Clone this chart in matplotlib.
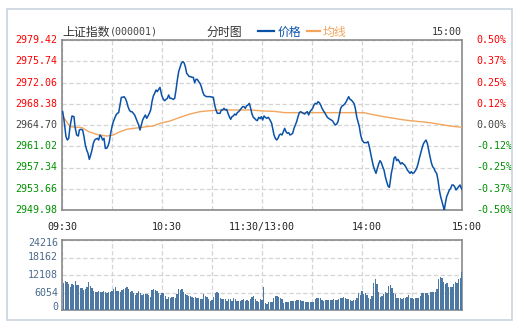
import matplotlib
matplotlib.use("Agg")
import matplotlib.pyplot as plt
import matplotlib.patches as mpatches
import matplotlib.transforms as mtrans

# ---------------- data ----------------
price_levels = [2979.42, 2975.74, 2972.06, 2968.38, 2964.70, 2961.02, 2957.34, 2953.66, 2949.98]
pct_labels = ["0.50%", "0.37%", "0.25%", "0.12%", "0.00%", "-0.12%", "-0.25%", "-0.37%", "-0.50%"]
prev_close = 2964.70
vol_levels = [0, 6054, 12108, 18162, 24216]
time_labels = ["09:30", "10:30", "11:30/13:00", "14:00", "15:00"]
time_label_minutes = [0, 60, 120, 180, 240]

price_minutes = [
    0.4, 1.2, 2.4, 3.2, 4.0, 4.8, 6.0, 7.2, 7.8, 8.8, 9.8, 10.4, 11.4, 12.4, 13.2, 14.0, 14.8, 15.6,
    16.4, 17.2, 18.0, 18.8, 19.6, 20.4, 21.2, 22.0, 22.8, 23.6, 24.4, 25.2, 26.0, 26.8, 27.6, 28.4,
    29.2, 30.0, 30.8, 31.6, 32.4, 33.2, 34.0, 34.8, 35.6, 36.4, 37.2, 38.0, 38.8, 39.6, 40.4, 41.2,
    42.0, 42.8, 43.6, 44.4, 45.2, 46.0, 46.8, 47.6, 48.4, 49.2, 50.0, 50.8, 51.6, 52.4, 53.2, 54.0,
    54.8, 55.6, 56.4, 57.2, 58.0, 58.8,
    59.8, 60.8, 61.6, 62.4, 63.2, 64.0, 64.8, 65.6, 66.8, 67.6, 68.4, 69.2, 70.0, 70.8, 71.6, 72.4,
    73.2, 74.0, 74.8, 75.6, 76.4, 77.2, 78.0, 78.8, 79.6, 80.4, 81.2, 82.0, 82.8, 83.6, 84.4, 85.2,
    86.0, 86.8, 88.8, 90.8, 91.6, 92.4, 93.2, 94.0, 94.8, 95.6, 96.4, 97.2, 98.0, 98.8, 99.6, 100.4,
    101.2, 102.0, 102.8, 103.6, 104.4, 105.2, 106.0, 106.8, 107.6, 108.4, 109.2, 110.0, 110.8, 111.6,
    112.4, 113.2, 114.0, 114.8, 115.6, 116.4, 117.2, 118.0, 118.8, 119.6, 120.4, 121.2,
    122.0, 122.8, 123.8, 124.8, 125.8, 126.4, 127.2, 128.0, 128.8, 129.6, 130.4, 131.2, 132.0, 132.8,
    133.6, 134.4, 135.2, 136.0, 136.8, 137.6, 138.4, 139.2, 140.0, 140.8, 141.6, 142.4, 143.2, 144.0,
    144.8, 145.6, 146.4, 147.2, 148.0, 148.8, 149.6, 150.4, 151.2, 152.0, 152.8, 153.6, 154.4, 155.2,
    156.0, 156.8, 157.6, 158.4, 159.2, 160.0, 160.8, 161.6, 162.4, 163.2, 164.0, 164.8, 165.6, 166.4,
    167.2, 168.0, 168.8, 169.6, 170.4, 171.2, 172.0, 172.8, 173.6, 174.4, 175.2, 176.0, 176.8, 177.6,
    178.4, 179.2, 180.0, 181.2,
    182.0, 182.8, 183.6, 184.4, 185.2, 186.0, 186.8, 187.6, 188.4, 189.2, 190.0, 190.8, 191.6, 192.4,
    193.2, 194.0, 194.8, 195.6, 196.4, 196.8, 197.6, 198.4, 199.2, 200.0, 200.8, 201.6, 202.4, 203.2,
    204.0, 204.8, 205.6, 206.4, 207.2, 208.0, 208.8, 209.6, 210.4, 211.2, 212.0, 212.8, 213.6, 214.4,
    215.2, 216.0, 216.8, 217.6, 218.4, 219.2, 220.0, 220.8, 221.6, 222.4, 223.2, 224.0, 224.8, 225.6,
    226.4, 227.2, 228.0, 228.8, 229.4, 230.0, 230.8, 231.6, 232.4, 233.2, 234.0, 234.8, 235.6, 236.4,
    237.2, 238.0, 238.8, 239.6, 240.0,
]
price_values = [
    2967.01, 2965.57, 2962.68, 2962.10, 2962.39, 2964.41, 2966.26, 2966.14, 2964.41, 2962.97, 2962.79,
    2963.83, 2963.95, 2963.83, 2962.68, 2961.24, 2960.37, 2959.79, 2958.75, 2959.50, 2960.37, 2961.52,
    2962.10, 2962.27, 2962.39, 2962.10, 2962.97, 2962.68, 2962.10, 2962.39, 2960.66, 2960.66, 2961.06,
    2961.81, 2963.26, 2964.41, 2965.28, 2965.85, 2966.43, 2966.72, 2966.84, 2968.16, 2969.49, 2969.49,
    2969.61, 2969.32, 2968.74, 2967.87, 2967.30, 2967.01, 2967.01, 2966.72, 2966.43, 2965.85, 2965.28,
    2964.70, 2963.83, 2964.70, 2965.57, 2966.03, 2966.43, 2965.85, 2966.26, 2966.72, 2967.30, 2968.74,
    2969.72, 2970.18, 2970.76, 2970.47, 2970.88, 2971.22,
    2969.89, 2969.14, 2968.91, 2969.14, 2969.32, 2969.89, 2969.32, 2969.32, 2969.14, 2969.32, 2970.76,
    2972.49, 2973.94, 2974.69, 2975.38, 2975.67, 2975.49, 2974.80, 2973.65, 2973.36, 2973.07, 2973.07,
    2972.95, 2972.95, 2972.03, 2972.61, 2972.61, 2972.20, 2971.91, 2971.34, 2970.47, 2969.89, 2969.72,
    2969.61, 2969.61, 2969.49, 2968.16, 2967.30, 2966.72, 2966.72, 2966.72, 2967.30, 2967.30, 2967.59,
    2967.30, 2967.41, 2966.72, 2966.14, 2965.68, 2966.14, 2966.26, 2966.60, 2966.43, 2966.84, 2967.01,
    2967.30, 2967.59, 2967.87, 2967.87, 2967.59, 2968.05, 2968.16, 2968.45, 2967.59, 2966.60, 2966.03,
    2965.85, 2965.57, 2965.45, 2966.03, 2965.80, 2966.14, 2965.57, 2966.26,
    2966.03, 2965.85, 2966.03, 2965.57, 2964.99, 2964.12, 2962.97, 2962.39, 2962.10, 2962.39, 2962.97,
    2963.14, 2962.97, 2963.54, 2964.12, 2963.54, 2963.26, 2963.37, 2962.97, 2963.08, 2963.26, 2964.12,
    2964.70, 2965.28, 2966.14, 2966.84, 2967.01, 2966.84, 2966.72, 2966.60, 2966.84, 2967.01, 2966.43,
    2967.01, 2967.30, 2967.59, 2968.16, 2968.45, 2968.34, 2968.74, 2968.57, 2968.16, 2967.59, 2967.18,
    2966.84, 2966.43, 2966.03, 2965.85, 2965.68, 2965.57, 2965.39, 2964.99, 2964.70, 2964.87, 2965.28,
    2966.43, 2967.59, 2967.99, 2968.11, 2968.34, 2968.68, 2969.14, 2969.61, 2969.14, 2969.03, 2968.74,
    2968.45, 2967.59, 2966.14, 2965.28, 2964.41, 2962.97, 2962.10, 2961.64,
    2961.64, 2961.64, 2961.81, 2960.95, 2959.79, 2958.64, 2957.60, 2956.91, 2956.33, 2957.19, 2957.94,
    2958.52, 2958.18, 2957.48, 2956.91, 2955.75, 2954.89, 2954.13, 2953.90, 2954.60, 2956.33, 2957.48,
    2958.93, 2959.21, 2958.52, 2958.75, 2958.35, 2957.94, 2958.18, 2957.94, 2957.77, 2957.37, 2956.91,
    2956.62, 2956.33, 2956.62, 2956.33, 2956.44, 2956.79, 2957.19, 2957.94, 2958.93, 2959.79, 2960.66,
    2961.41, 2961.81, 2962.10, 2961.52, 2960.37, 2959.21, 2958.18, 2957.48, 2957.19, 2956.62, 2956.33,
    2955.17, 2953.44, 2952.29, 2951.42, 2950.56, 2949.98, 2951.13, 2952.29, 2952.86, 2953.44, 2953.73,
    2954.31, 2954.31, 2954.02, 2953.44, 2953.73, 2954.02, 2954.31, 2953.73, 2953.56,
]

avg_minutes = [0, 4.8, 12, 16, 19, 22, 27, 30.8, 34.8, 38.8, 42.8, 46.8, 50.8, 54.8, 58.8, 64.8, 70.8,
               76.8, 82.8, 88.8, 94.8, 106.8, 112.8, 121.2, 126.8, 133.8, 150, 181, 184.8, 190.8,
               196.8, 202.8, 208.8, 214.8, 220.8, 226.8, 232.8, 240]
avg_values = [2966.43, 2964.41, 2964.24, 2963.54, 2963.26, 2962.97, 2962.79, 2962.97, 2963.54, 2963.95,
              2964.12, 2964.24, 2964.41, 2964.53, 2964.99, 2965.39, 2966.03, 2966.60, 2967.01, 2967.18,
              2967.30, 2967.30, 2967.30, 2967.12, 2967.07, 2966.84, 2966.84, 2966.84, 2966.60, 2966.26,
              2965.97, 2965.68, 2965.45, 2965.28, 2965.10, 2964.81, 2964.53, 2964.30]

volume_am = [
    9455, 10031, 9685, 8993, 8071, 8993, 8648, 10031, 8648, 8648, 7495, 7495, 6918, 7379, 8071, 9801,
    8302, 7495, 6687, 6342, 6342, 6572, 6342, 6342, 6572, 6342, 5996, 6111, 6342, 6687, 7149, 7840,
    6572, 6572, 6342, 6918, 7264, 7495, 7840, 7149, 6342, 6572, 5765, 5189, 5996, 6572, 5765, 5189,
    5534, 5534, 5534, 5073, 4612, 6918, 7149, 6918, 6572, 5996, 5073, 5765, 5996,
    4843, 3690, 4381, 4036, 4381, 4381, 4036, 5534, 7149, 6918, 7264, 6226, 5534, 5189, 4843, 4843,
    4381, 4036, 4381, 4036, 4036, 3690, 3690, 5534, 4843, 4381, 3690, 3228, 3459, 4612, 5996, 6226,
    5765, 4036, 3690, 3690, 3690, 3228, 3690, 3690, 3228, 4036, 3690, 3228, 3228, 3228, 3459, 3690,
    3228, 3459, 3228, 3690, 4381, 4843, 3690, 3228, 2883, 3690, 3459,
]
volume_pm = [
    7840, 2306, 1960, 2652, 2652, 2652, 4036, 4958, 4843, 4612, 4266, 3805, 2306, 2652, 2652, 2883,
    3113, 3113, 3113, 3113, 3459, 3459, 3459, 3113, 3113, 2883, 2652, 2652, 2883, 2883, 2883, 3805,
    4036, 4036, 4036, 3459, 3113, 3459, 3459, 3459, 3459, 3459, 3805, 3459, 3459, 3805, 4036, 4266,
    4612, 4266, 3805, 3805, 3344, 3113, 3459, 3459, 4266, 5765, 5189, 6572, 5419, 5765, 5189, 4036,
    3805, 4958, 9224, 10608, 8878, 6111, 4612, 4958, 5419, 6342, 5765, 8302, 8648, 7725, 5765, 5419,
    4036, 4036, 4036, 3805, 4036, 4266, 4612, 5189, 4266, 4036, 3805, 4266, 4266, 4036, 4958, 5765,
    5765, 5765, 5765, 5189, 6111, 6342, 6111, 6342, 7264, 10723, 11530, 10954, 9801, 8878, 9224, 8071,
    8071, 7840, 8878, 9570, 9224, 10723, 11184, 13029,
]
volume = volume_am + volume_pm
volume_minutes = list(range(1, len(volume) + 1))

# ---------------- figure ----------------
W, H = 524, 329
fig = plt.figure(figsize=(W / 100, H / 100), dpi=100)
fig.patch.set_facecolor("white")

def fbox(l, t, r, b):
    return [l / W, 1 - b / H, (r - l) / W, (b - t) / H]

MONO = "DejaVu Sans Mono"
CJK = ["Noto Sans CJK SC", "DejaVu Sans"]
RED, GREEN, GRAY = "#ff0000", "#009000", "#444444"
GRID = "#d4d4d4"
SPINE = "#8a8a8a"
FS = 7.2

# outer frame
fig.patches.append(mpatches.Rectangle((6.5 / W, 1 - 320 / H), 505.5 / W, 311 / H, fill=False,
                                      edgecolor="#c9d3de", lw=1.2, transform=fig.transFigure))

# main price axes
ax = fig.add_axes(fbox(62, 40, 462, 210))
ax.set_xlim(0, 240)
ax.set_ylim(price_levels[-1], price_levels[0])
ax.set_xticks(range(0, 241, 30))
ax.set_yticks(price_levels)
ax.tick_params(length=0, labelleft=False, labelbottom=False)
ax.grid(True, color=GRID, linestyle=(0, (3.5, 2)), lw=0.9)
for s in ax.spines.values():
    s.set_color(SPINE)
    s.set_linewidth(1.2)
ax.plot(avg_minutes, avg_values, color="#f2a55e", lw=1.0, zorder=3)
ax.plot(price_minutes, price_values, color="#0a52a8", lw=1.1, zorder=4)

ytr = ax.get_yaxis_transform()
for lvl, pct in zip(price_levels, pct_labels):
    if abs(lvl - prev_close) < 1e-6:
        c = GRAY
    elif lvl > prev_close:
        c = RED
    else:
        c = GREEN
    ax.text(-0.012, lvl, f"{lvl:.2f}", transform=ytr, ha="right", va="center",
            fontsize=FS, family=MONO, color=c)
    ax.text(1.035, lvl, pct, transform=ytr, ha="left", va="center",
            fontsize=FS, family=MONO, color=c)

# time labels
xtr = ax.get_xaxis_transform()
offsets_px = [0, 5, 0, 5, 5]
for m, lab, off in zip(time_label_minutes, time_labels, offsets_px):
    t = xtr + mtrans.ScaledTranslation(off / 100, 0, fig.dpi_scale_trans)
    ax.text(m, -0.1, lab, transform=t, ha="center", va="center", fontsize=FS,
            family=MONO, color="#222222")

# header
fig.text(62 / W, 1 - 32 / H, "上证指数", family=CJK, fontsize=8.6, color="#333333",
         ha="left", va="center")
fig.text(110 / W, 1 - 32 / H, "(000001)", family=MONO, fontsize=FS, color="#444444",
         ha="left", va="center")
fig.text(224 / W, 1 - 32 / H, "分时图", family=CJK, fontsize=8.6, color="#333333",
         ha="center", va="center")
fig.lines.append(plt.Line2D([258 / W, 274 / W], [1 - 31 / H, 1 - 31 / H], color="#0a52a8", lw=1.6,
                            transform=fig.transFigure))
fig.text(278 / W, 1 - 32 / H, "价格", family=CJK, fontsize=8.6, color="#0a52a8",
         ha="left", va="center")
fig.lines.append(plt.Line2D([307 / W, 320 / W], [1 - 31 / H, 1 - 31 / H], color="#f2a55e", lw=1.6,
                            transform=fig.transFigure))
fig.text(323 / W, 1 - 32 / H, "均线", family=CJK, fontsize=8.6, color="#f2a55e",
         ha="left", va="center")
fig.text(462 / W, 1 - 32 / H, "15:00", family=MONO, fontsize=FS, color="#333333",
         ha="right", va="center")

# volume axes
axv = fig.add_axes(fbox(62, 240, 462, 310))
axv.set_xlim(0, 240)
axv.set_ylim(0, vol_levels[-1])
axv.set_xticks(range(0, 241, 30))
axv.set_yticks(vol_levels)
axv.tick_params(length=0, labelleft=False, labelbottom=False)
axv.grid(True, color=GRID, linestyle=(0, (3.5, 2)), lw=0.9)
for s in axv.spines.values():
    s.set_color(SPINE)
    s.set_linewidth(1.2)
axv.bar(volume_minutes, volume, width=0.62, color="#4d78a3", zorder=3)
vtr = axv.get_yaxis_transform()
for v in vol_levels:
    dy = 0
    if v == vol_levels[-1]:
        dy = -3
    elif v == 0:
        dy = 3
    t = vtr + mtrans.ScaledTranslation(0, dy / 100, fig.dpi_scale_trans)
    axv.text(-0.01, v, str(v), transform=t, ha="right", va="center", fontsize=FS,
             family=MONO, color="#4a6a8e")

fig.savefig("out.png", dpi=100, facecolor="white")
